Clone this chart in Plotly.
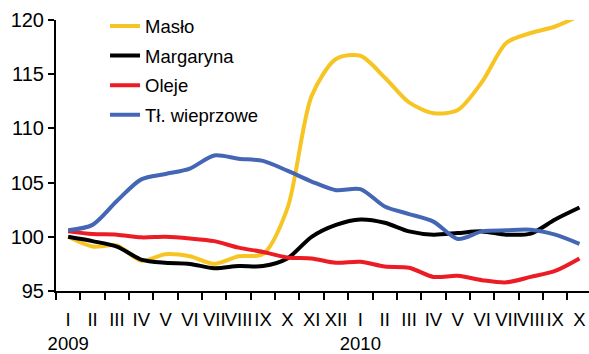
import plotly.graph_objects as go

# Monthly price indices (same month previous year = 100), I 2009 – X 2010
months = ["I", "II", "III", "IV", "V", "VI", "VII", "VIII", "IX", "X", "XI", "XII",
          "I", "II", "III", "IV", "V", "VI", "VII", "VIII", "IX", "X"]
years = {0: "2009", 12: "2010"}

maslo = [100.0, 99.1, 99.2, 97.8, 98.4, 98.2, 97.5, 98.2, 98.4, 102.6, 113.0, 116.4,
         116.7, 114.7, 112.4, 111.4, 111.7, 114.3, 117.9, 118.8, 119.4, 120.4]
margaryna = [100.0, 99.6, 99.1, 97.9, 97.6, 97.5, 97.1, 97.3, 97.3, 98.0, 100.0, 101.1,
             101.6, 101.3, 100.5, 100.2, 100.35, 100.5, 100.2, 100.3, 101.6, 102.7]
oleje = [100.5, 100.25, 100.2, 99.95, 100.0, 99.85, 99.6, 99.0, 98.6, 98.1, 98.0, 97.6,
         97.7, 97.25, 97.15, 96.3, 96.4, 96.0, 95.8, 96.3, 96.85, 98.0]
tl_wieprzowe = [100.6, 101.1, 103.3, 105.3, 105.8, 106.3, 107.5, 107.2, 107.0, 106.1, 105.1, 104.3,
                104.4, 102.8, 102.1, 101.4, 99.8, 100.5, 100.6, 100.65, 100.2, 99.35]

series = [
    ("Masło", maslo, "#F7C523"),
    ("Margaryna", margaryna, "#000000"),
    ("Oleje", oleje, "#EC1C24"),
    ("Tł. wieprzowe", tl_wieprzowe, "#4466B4"),
]

x = list(range(len(months)))
ticktext = [m + ("<br>" + years[i] if i in years else "") for i, m in enumerate(months)]

fig = go.Figure()
for i, (name, vals, color) in enumerate(series):
    fig.add_trace(go.Scatter(
        x=x, y=vals, name=name, mode="lines", legendgroup=str(i),
        line=dict(color=color, width=4, shape="spline", smoothing=0.8),
    ))

font = "Liberation Sans, Arial, sans-serif"
fig.update_layout(
    width=589, height=354,
    margin=dict(l=56, r=0, t=20, b=63),
    paper_bgcolor="white", plot_bgcolor="white",
    font=dict(family=font, color="black"),
    showlegend=True,
    legend=dict(
        x=0.092, y=1.046, xanchor="left", yanchor="top",
        bgcolor="rgba(0,0,0,0)", font=dict(size=18.5, family=font),
        tracegroupgap=2.5,
    ),
    xaxis=dict(
        range=[-0.5, 21.39],
        tickmode="array", tickvals=x, ticktext=ticktext, tickangle=0,
        ticks="outside", ticklen=11, tickcolor="rgba(0,0,0,0)",
        tickfont=dict(size=18.5), automargin=False,
        minor=dict(tickmode="linear", tick0=-0.5, dtick=1, ticks="outside",
                   ticklen=7, tickwidth=2, tickcolor="black", showgrid=False),
        showline=True, linecolor="black", linewidth=2,
        showgrid=False, zeroline=False,
    ),
    yaxis=dict(
        range=[95, 120], tickmode="array", tickvals=[95, 100, 105, 110, 115, 120],
        ticks="outside", ticklen=6, tickwidth=2, tickcolor="black",
        tickfont=dict(size=20), automargin=False,
        showline=True, linecolor="black", linewidth=2,
        showgrid=False, zeroline=False,
    ),
)

fig.write_html("out.html")
